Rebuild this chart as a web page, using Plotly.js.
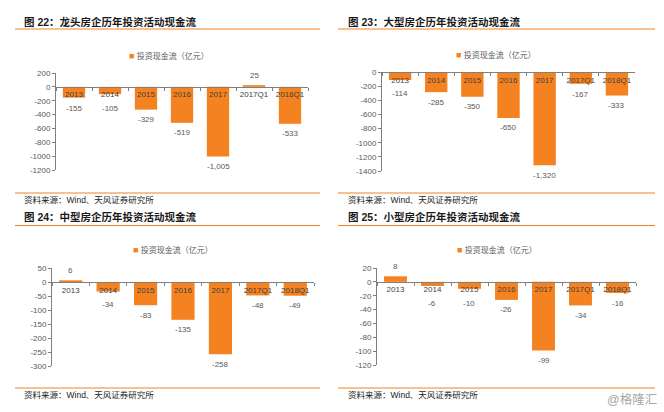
<!DOCTYPE html>
<html>
<head>
<meta charset="utf-8">
<script src="https://cdn.plot.ly/plotly-3.0.1.min.js"></script>
<style>html,body{margin:0;padding:0;background:#fff;}#chart{width:664px;height:412px;}</style>
</head>
<body>
<div id="chart"></div>
<script>
// ---- data ----
var categories = ['2013', '2014', '2015', '2016', '2017', '2017Q1', '2018Q1'];
var seriesName = '投资现金流（亿元）';
var leaderValues = [-155, -105, -329, -519, -1005, 25, -533];   // 龙头房企
var largeValues  = [-114, -285, -350, -650, -1320, -167, -333];  // 大型房企
var midValues    = [6, -34, -83, -135, -258, -48, -49];          // 中型房企
var smallValues  = [8, -6, -10, -26, -99, -34, -16];             // 小型房企
var titles = [
  '图 22：龙头房企历年投资活动现金流',
  '图 23：大型房企历年投资活动现金流',
  '图 24：中型房企历年投资活动现金流',
  '图 25：小型房企历年投资活动现金流'
];
var sourceText = '资料来源：Wind、天风证券研究所';
var watermark = '@格隆汇';
var tickVals1 = [200, 0, -200, -400, -600, -800, -1000, -1200];
var tickText1 = ['200', '0', '-200', '-400', '-600', '-800', '-1000', '-1200'];
var tickVals2 = [0, -200, -400, -600, -800, -1000, -1200, -1400];
var tickText2 = ['0', '-200', '-400', '-600', '-800', '-1000', '-1200', '-1400'];
var tickVals3 = [50, 0, -50, -100, -150, -200, -250, -300];
var tickText3 = ['50', '0', '-50', '-100', '-150', '-200', '-250', '-300'];
var tickVals4 = [20, 0, -20, -40, -60, -80, -100, -120];
var tickText4 = ['20', '0', '-20', '-40', '-60', '-80', '-100', '-120'];

// ---- layout helpers ----
var W = 664, H = 412;
function px(x) { return x / W; }
function py(y) { return 1 - y / H; }
var ORANGE = '#F58220';
var FONT = '"Liberation Sans", Arial, "Noto Sans CJK SC", sans-serif';

var panels = [
  {vals: leaderValues, tv: tickVals1, tt: tickText1, range: [-1200, 200], x0: 56, x1: 308, yt: 73, yb: 170,
   title: titles[0], tx: 22, ty: 22, lx: 127, ly: 56, sx: 22, sy: 200, lineX0: 15, lineX1: 320, lineTop: 29, lineBot: 193},
  {vals: largeValues, tv: tickVals2, tt: tickText2, range: [-1400, 0], x0: 382, x1: 635, yt: 72, yb: 171,
   title: titles[1], tx: 346, ty: 22, lx: 454, ly: 55, sx: 346, sy: 200, lineX0: 338, lineX1: 655, lineTop: 29, lineBot: 193},
  {vals: midValues, tv: tickVals3, tt: tickText3, range: [-300, 50], x0: 52, x1: 314, yt: 268, yb: 366,
   title: titles[2], tx: 22, ty: 217, lx: 131, ly: 250, sx: 22, sy: 395, lineX0: 15, lineX1: 320, lineTop: 225.5, lineBot: 388},
  {vals: smallValues, tv: tickVals4, tt: tickText4, range: [-120, 20], x0: 377, x1: 636, yt: 268, yb: 365,
   title: titles[3], tx: 346, ty: 217, lx: 455, ly: 250, sx: 346, sy: 395, lineX0: 338, lineX1: 655, lineTop: 225.5, lineBot: 388}
];

var data = [];
var layout = {
  width: W, height: H,
  margin: {l: 0, r: 0, t: 0, b: 0},
  paper_bgcolor: '#fff', plot_bgcolor: '#fff',
  showlegend: false,
  bargap: 0.38,
  font: {family: FONT, size: 8, color: '#595959'},
  annotations: [], shapes: []
};

panels.forEach(function (p, i) {
  var n = i + 1;
  var xa = 'x' + (n === 1 ? '' : n), ya = 'y' + (n === 1 ? '' : n);
  var xk = 'xaxis' + (n === 1 ? '' : n), yk = 'yaxis' + (n === 1 ? '' : n);
  var yd = [py(p.yb), py(p.yt)];
  var span = p.range[1] - p.range[0];
  var zeroPos = yd[0] + (0 - p.range[0]) / span * (yd[1] - yd[0]);
  var pxPerUnit = (p.yb - p.yt) / span;
  data.push({
    type: 'bar', x: categories, y: p.vals, name: seriesName,
    xaxis: xa, yaxis: ya,
    marker: {color: ORANGE},
    hoverinfo: 'x+y'
  });
  // value labels, anchored to each bar end (category index k on the category axis);
  // short negative bars get their label pushed below the category label
  p.vals.forEach(function (v, k) {
    var barPx = Math.abs(v) * pxPerUnit;
    var shift = v >= 0 ? 10 : -Math.max(10, 22 - barPx);
    layout.annotations.push({
      xref: xa, yref: ya, x: k, y: v, xanchor: 'center', yanchor: 'middle',
      yshift: shift, showarrow: false,
      text: v.toLocaleString('en-US'),
      font: {family: FONT, size: 8, color: '#595959'}
    });
  });
  layout[xk] = {
    domain: [px(p.x0), px(p.x1)], type: 'category', range: [-0.5, 6.5],
    anchor: 'free', position: zeroPos,
    showline: true, linecolor: '#7f7f7f', linewidth: 1,
    ticks: 'outside', tickson: 'boundaries', ticklen: 3, tickcolor: '#7f7f7f',
    tickangle: 0,
    tickfont: {family: FONT, size: 8, color: '#404040'},
    showgrid: false, zeroline: false, fixedrange: true
  };
  layout[yk] = {
    domain: yd, anchor: xa, range: p.range,
    tickmode: 'array', tickvals: p.tv, ticktext: p.tt,
    showline: true, linecolor: '#7f7f7f', linewidth: 1,
    ticks: 'outside', ticklen: 3, tickcolor: '#7f7f7f',
    tickfont: {family: FONT, size: 8, color: '#595959'},
    showgrid: false, zeroline: false, fixedrange: true
  };
  layout.annotations.push({
    xref: 'paper', yref: 'paper', x: px(p.tx), y: py(p.ty), xanchor: 'left', yanchor: 'middle',
    text: '<b>' + p.title + '</b>', showarrow: false,
    font: {family: FONT, size: 10.5, color: '#1a1a1a'}
  });
  layout.annotations.push({
    xref: 'paper', yref: 'paper', x: px(p.lx), y: py(p.ly), xanchor: 'left', yanchor: 'middle',
    text: '<span style="color:' + ORANGE + ';font-size:9px">■</span> ' + seriesName, showarrow: false,
    font: {family: FONT, size: 8, color: '#595959'}
  });
  layout.annotations.push({
    xref: 'paper', yref: 'paper', x: px(p.sx), y: py(p.sy), xanchor: 'left', yanchor: 'middle',
    text: sourceText, showarrow: false,
    font: {family: FONT, size: 8.5, color: '#1a1a1a'}
  });
  [p.lineTop, p.lineBot].forEach(function (yy) {
    layout.shapes.push({
      type: 'line', xref: 'paper', yref: 'paper',
      x0: px(p.lineX0), x1: px(p.lineX1), y0: py(yy), y1: py(yy),
      line: {color: ORANGE, width: 1}
    });
  });
});

layout.annotations.push({
  xref: 'paper', yref: 'paper', x: px(605), y: py(399), xanchor: 'left', yanchor: 'middle',
  text: watermark, showarrow: false,
  font: {family: FONT, size: 12.5, color: '#a6a6a6'}
});

Plotly.newPlot('chart', data, layout, {displayModeBar: false, staticPlot: true});
</script>
</body>
</html>
